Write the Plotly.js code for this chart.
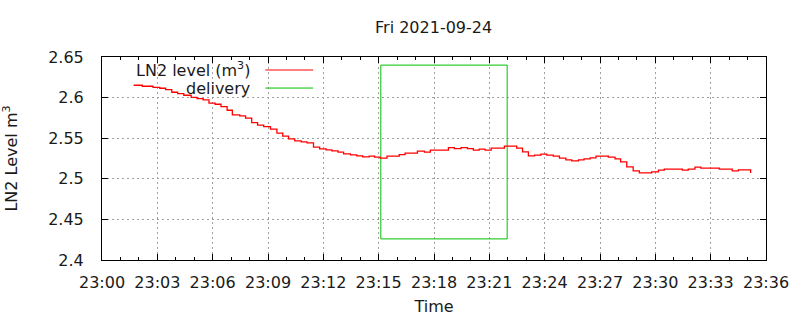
<!DOCTYPE html>
<html>
<head>
<meta charset="utf-8">
<script src="https://cdn.plot.ly/plotly-3.0.1.min.js"></script>
<style>html,body{margin:0;padding:0;background:#fff;}#chart{width:800px;height:320px;}</style>
</head>
<body>
<div id="chart"></div>
<script>
const day = '2021-09-24';
const titleText = 'Fri 2021-09-24';
const seriesNames = ['LN2 level (m<sup>3</sup>)', 'delivery'];

const levelTimes = [
 '23:01:43','23:02:11','23:02:46','23:03:08','23:03:27','23:03:47','23:04:06','23:04:26','23:04:50','23:05:09',
 '23:05:29','23:05:48','23:06:08','23:06:27','23:06:47','23:07:04','23:07:28','23:07:47','23:08:07','23:08:26',
 '23:08:46','23:09:08','23:09:29','23:09:48','23:10:07','23:10:27','23:10:48','23:11:07','23:11:28','23:11:48',
 '23:12:09','23:12:28','23:12:48','23:13:06','23:13:28','23:13:49','23:14:08','23:14:29','23:14:47','23:15:05',
 '23:15:27','23:16:07','23:16:26','23:17:06','23:17:29','23:17:48','23:18:47','23:19:06','23:19:28','23:19:49',
 '23:20:08','23:20:27','23:20:46','23:21:06','23:21:49','23:22:29','23:22:48','23:23:07','23:23:27','23:23:48',
 '23:24:07','23:24:28','23:24:48','23:25:09','23:25:28','23:25:50','23:26:08','23:26:28','23:26:47','23:27:27',
 '23:27:49','23:28:07','23:28:27','23:28:48','23:29:08','23:29:48','23:30:10','23:30:29','23:31:28','23:31:47',
 '23:32:09','23:32:28','23:33:28','23:34:10','23:34:30','23:35:10'
];
const levelValues = [
 2.6152,2.6140,2.6127,2.6115,2.6098,2.6066,2.6049,2.6029,2.6004,2.5987,
 2.5971,2.5931,2.5918,2.5889,2.5844,2.5787,2.5774,2.5746,2.5692,2.5660,
 2.5643,2.5611,2.5562,2.5525,2.5491,2.5467,2.5454,2.5442,2.5389,2.5368,
 2.5356,2.5344,2.5328,2.5307,2.5295,2.5282,2.5270,2.5279,2.5268,2.5254,
 2.5279,2.5298,2.5316,2.5340,2.5328,2.5352,2.5384,2.5372,2.5384,2.5372,
 2.5352,2.5365,2.5352,2.5377,2.5402,2.5377,2.5331,2.5282,2.5291,2.5303,
 2.5291,2.5279,2.5254,2.5233,2.5221,2.5233,2.5245,2.5258,2.5279,2.5266,
 2.5245,2.5208,2.5147,2.5098,2.5073,2.5085,2.5106,2.5119,2.5106,2.5119,
 2.5143,2.5131,2.5119,2.5098,2.5110,2.5070
];

const deliveryTimes = ['23:15:07', '23:21:58'];
const deliveryLevels = [2.426, 2.640];

const xTickStep = 3;   // minutes
const yTickLabels = ['2.4','2.45','2.5','2.55','2.6','2.65'];

const ts = t => day + ' ' + t;

const levelTrace = {
  x: levelTimes.map(ts), y: levelValues, type: 'scatter', mode: 'lines',
  line: {shape: 'hv', color: '#ff0000', width: 1.3}, name: seriesNames[0], showlegend: false
};
const dx = [deliveryTimes[0], deliveryTimes[0], deliveryTimes[1], deliveryTimes[1], deliveryTimes[0]].map(ts);
const dy = [deliveryLevels[0], deliveryLevels[1], deliveryLevels[1], deliveryLevels[0], deliveryLevels[0]];
const deliveryTrace = {
  x: dx, y: dy, type: 'scatter', mode: 'lines',
  line: {color: '#00c000', width: 1}, name: seriesNames[1], showlegend: false
};

const FAM = 'DejaVu Sans, sans-serif';
const FS = 16;
const txt = {family: FAM, size: FS, color: '#1a1a1a'};
const legendRows = [0.936, 0.847];
const legendColors = ['#ff0000', '#00c000'];

const layout = {
  width: 800, height: 320,
  margin: {l: 101.5, r: 34, t: 57, b: 60},
  paper_bgcolor: '#fff', plot_bgcolor: '#fff',
  font: txt,
  title: {text: titleText, x: 0.542, xanchor: 'center', y: 0.913, yanchor: 'middle', font: txt},
  xaxis: {
    type: 'date',
    range: [ts('23:00:00'), ts('23:36:00')],
    dtick: xTickStep * 60000, tick0: ts('23:00:00'), tickformat: '%H:%M',
    ticks: 'inside', ticklen: 6, tickcolor: '#000', tickwidth: 1,
    minor: {dtick: 60000, ticks: 'inside', ticklen: 3, tickcolor: '#000', showgrid: false},
    showline: true, linecolor: '#000', linewidth: 1, mirror: 'allticks',
    showgrid: true, gridcolor: '#a0a0a0', griddash: '2px,3px', gridwidth: 1,
    zeroline: false,
    tickfont: txt, ticklabelstandoff: 8,
    title: {text: 'Time', font: txt, standoff: 9},
    fixedrange: true
  },
  yaxis: {
    range: [2.4, 2.65],
    tickmode: 'array', tickvals: yTickLabels.map(Number), ticktext: yTickLabels,
    ticks: 'inside', ticklen: 6, tickcolor: '#000', tickwidth: 1,
    showline: true, linecolor: '#000', linewidth: 1, mirror: 'allticks',
    showgrid: true, gridcolor: '#a0a0a0', griddash: '2px,3px', gridwidth: 1,
    zeroline: false,
    tickfont: txt, ticklabelstandoff: 14,
    title: {text: 'LN2 Level m<sup>3</sup>', font: txt, standoff: 26},
    fixedrange: true
  },
  showlegend: false,
  annotations: seriesNames.map((n, i) => ({
    xref: 'paper', yref: 'paper', x: 0.2265, y: legendRows[i], xanchor: 'right', yanchor: 'middle',
    text: n, showarrow: false, font: txt
  })),
  shapes: seriesNames.map((n, i) => ({
    type: 'line', xref: 'paper', yref: 'paper', x0: 0.246, x1: 0.318, y0: legendRows[i], y1: legendRows[i],
    line: {color: legendColors[i], width: 1}
  }))
};

Plotly.newPlot('chart', [deliveryTrace, levelTrace], layout, {staticPlot: true, displayModeBar: false});
</script>
</body>
</html>
